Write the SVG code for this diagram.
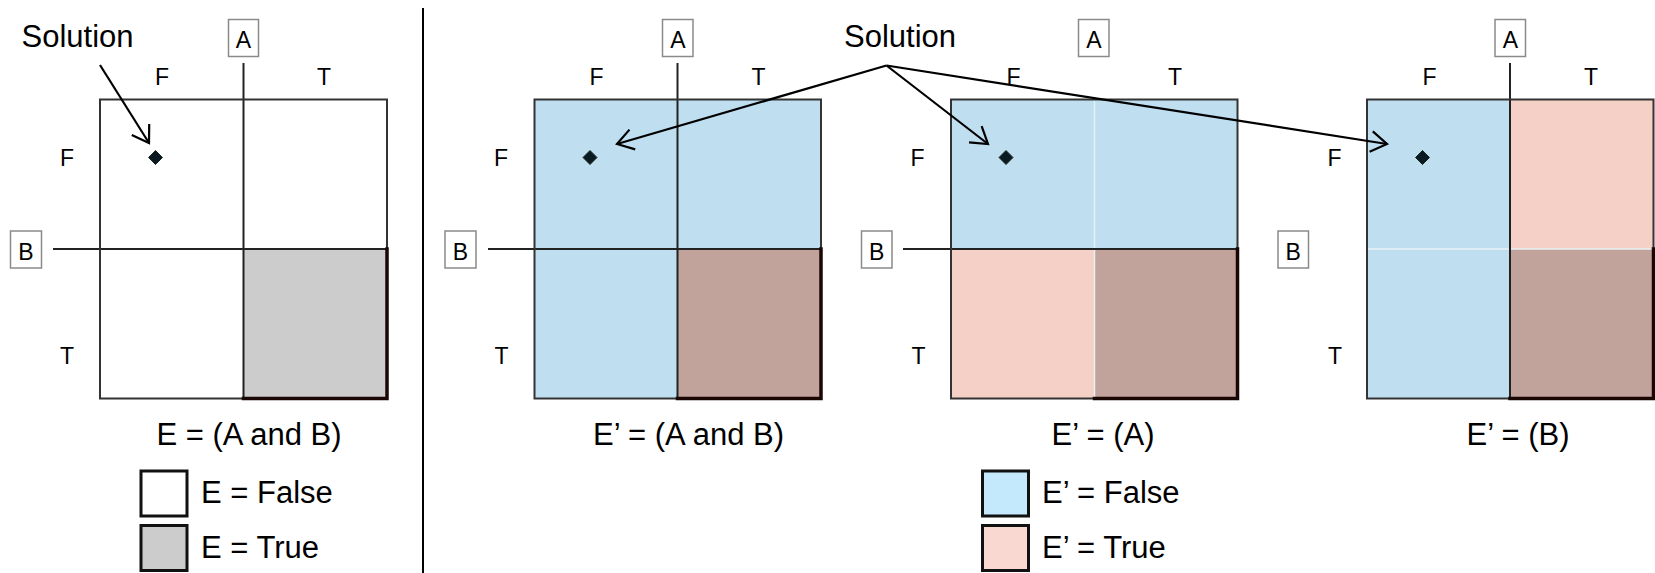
<svg xmlns="http://www.w3.org/2000/svg" width="1655" height="573" viewBox="0 0 1655 573">
<style>
text{font-family:"Liberation Sans",Arial,sans-serif;fill:#000}
.big{font-size:31px}
.lab{font-size:23px}
.mid{text-anchor:middle}
.box{fill:#fff;stroke:#8a8a8a;stroke-width:1.5}
.ln{stroke:#222;stroke-width:2;fill:none}
.wl{stroke:#e8f0f4;stroke-width:1.5;fill:none}
.outer{fill:none;stroke:#333;stroke-width:2}
.thick{fill:none;stroke:#1a0703;stroke-width:3.5;stroke-linecap:square}
.blue{fill:#bfdff0}
.pink{fill:#f4d0c6}
.brown{fill:#c2a39b}
.gray{fill:#cccccc}
.dia{fill:#0b1a22;stroke:#1a2a1a;stroke-width:1}
.arr{stroke:#000;stroke-width:2.2;fill:none;marker-end:url(#oa)}
.leg{stroke:#111;stroke-width:3}
</style>
<defs>
<marker id="oa" markerUnits="userSpaceOnUse" markerWidth="24" markerHeight="24" viewBox="0 0 24 24" refX="17" refY="11.5" orient="auto" overflow="visible">
<path d="M1,1.2 L17,11.5 L1,21.8" fill="none" stroke="#000" stroke-width="2.2"/>
</marker>
</defs>
<rect width="1655" height="573" fill="#fff"/>
<line x1="423" y1="8" x2="423" y2="573" stroke="#000" stroke-width="2"/>

<g id="panel1">
<rect x="100" y="99.5" width="287" height="299" fill="#fff"/>
<rect x="243.5" y="249" width="143.5" height="149.5" class="gray"/>
<line class="ln" x1="243.5" y1="63" x2="243.5" y2="398.5"/>
<line class="ln" x1="53" y1="249" x2="387" y2="249"/>
<rect class="outer" x="100" y="99.5" width="287" height="299"/>
<polyline class="thick" points="387,249 387,398.5 243.5,398.5"/>
<g id="p1-A"><rect class="box" x="228.5" y="19.5" width="30" height="37"/><text class="lab mid" x="243.5" y="48">A</text></g>
<g id="p1-B"><rect class="box" x="10.5" y="231" width="31" height="37"/><text class="lab mid" x="26" y="259.5">B</text></g>
<text class="lab mid" x="162" y="85">F</text>
<text class="lab mid" x="324" y="85">T</text>
<text class="lab mid" x="67" y="165.5">F</text>
<text class="lab mid" x="67" y="364">T</text>
<polygon class="dia" points="155.5,150.5 162.5,157.5 155.5,164.5 148.5,157.5"/>
<text class="big mid" x="77.5" y="47">Solution</text>
<text class="big mid" x="249" y="445">E = (A and B)</text>
</g>

<g id="legend1">
<rect class="leg" x="141" y="471" width="46" height="45" fill="#fff"/>
<rect class="leg" x="141" y="525.5" width="46" height="45" fill="#cccccc"/>
<text class="big" x="201" y="503">E = False</text>
<text class="big" x="201" y="558">E = True</text>
</g>

<g id="panel2">
<rect x="534.5" y="99.5" width="286.5" height="299" class="blue"/>
<rect x="677.5" y="249" width="143.5" height="149.5" class="brown"/>
<line class="ln" x1="677.5" y1="63" x2="677.5" y2="398.5"/>
<line class="ln" x1="488" y1="249" x2="821" y2="249"/>
<rect class="outer" x="534.5" y="99.5" width="286.5" height="299"/>
<polyline class="thick" points="821,249 821,398.5 677.5,398.5"/>
<g id="p2-A"><rect class="box" x="662.5" y="19.5" width="30.5" height="37"/><text class="lab mid" x="677.8" y="48">A</text></g>
<g id="p2-B"><rect class="box" x="445" y="231" width="31" height="37"/><text class="lab mid" x="460.5" y="259.5">B</text></g>
<text class="lab mid" x="596.5" y="85">F</text>
<text class="lab mid" x="758.5" y="85">T</text>
<text class="lab mid" x="501" y="165.5">F</text>
<text class="lab mid" x="501.5" y="364">T</text>
<polygon class="dia" points="590,150.5 597,157.5 590,164.5 583,157.5"/>
<text class="big mid" x="688.5" y="445">E’ = (A and B)</text>
</g>

<g id="panel3">
<rect x="951" y="99.5" width="286.5" height="149.5" class="blue"/>
<rect x="951" y="249" width="143.5" height="149.5" class="pink"/>
<rect x="1094.5" y="249" width="143" height="149.5" class="brown"/>
<line class="wl" x1="1094.5" y1="100.5" x2="1094.5" y2="397.5"/>
<line class="ln" x1="903" y1="249" x2="1237.5" y2="249"/>
<rect class="outer" x="951" y="99.5" width="286.5" height="299"/>
<polyline class="thick" points="1237.5,249 1237.5,398.5 1094.5,398.5"/>
<g id="p3-A"><rect class="box" x="1078.5" y="19.5" width="30.5" height="37"/><text class="lab mid" x="1093.8" y="48">A</text></g>
<g id="p3-B"><rect class="box" x="861.5" y="231" width="30.5" height="37"/><text class="lab mid" x="876.7" y="259.5">B</text></g>
<text class="lab mid" x="1013.5" y="85">F</text>
<text class="lab mid" x="1175" y="85">T</text>
<text class="lab mid" x="917.5" y="165.5">F</text>
<text class="lab mid" x="918.5" y="364">T</text>
<polygon class="dia" points="1006,150.5 1013,157.5 1006,164.5 999,157.5"/>
<text class="big mid" x="1103" y="445">E’ = (A)</text>
</g>

<g id="panel4">
<rect x="1367" y="99.5" width="143" height="299" class="blue"/>
<rect x="1510" y="99.5" width="143.5" height="149.5" class="pink"/>
<rect x="1510" y="249" width="143.5" height="149.5" class="brown"/>
<line class="wl" x1="1368" y1="249" x2="1652.5" y2="249"/>
<line class="ln" x1="1510" y1="63" x2="1510" y2="398.5"/>
<rect class="outer" x="1367" y="99.5" width="286.5" height="299"/>
<polyline class="thick" points="1653.5,249 1653.5,398.5 1510,398.5"/>
<g id="p4-A"><rect class="box" x="1495" y="19.5" width="30.5" height="37"/><text class="lab mid" x="1510.3" y="48">A</text></g>
<g id="p4-B"><rect class="box" x="1278" y="231" width="30.5" height="37"/><text class="lab mid" x="1293.2" y="259.5">B</text></g>
<text class="lab mid" x="1429.5" y="85">F</text>
<text class="lab mid" x="1591" y="85">T</text>
<text class="lab mid" x="1334.5" y="165.5">F</text>
<text class="lab mid" x="1335" y="364">T</text>
<polygon class="dia" points="1422.5,150.5 1429.5,157.5 1422.5,164.5 1415.5,157.5"/>
<text class="big mid" x="1518" y="445">E’ = (B)</text>
</g>

<g id="legend2">
<rect class="leg" x="982.5" y="471" width="46" height="45" fill="#c4e8fc"/>
<rect class="leg" x="982.5" y="525.5" width="46" height="45" fill="#f8d8d0"/>
<text class="big" x="1042" y="503">E’ = False</text>
<text class="big" x="1042" y="558">E’ = True</text>
</g>

<g id="solution2"><text class="big mid" x="900" y="47">Solution</text></g>

<g id="connectors">
<line class="arr" x1="100" y1="65" x2="149" y2="143"/>
<line class="arr" x1="886.5" y1="65.5" x2="617" y2="144"/>
<line class="arr" x1="886.5" y1="65.5" x2="988" y2="144"/>
<line class="arr" x1="886.5" y1="65.5" x2="1387" y2="144"/>
</g>
</svg>
